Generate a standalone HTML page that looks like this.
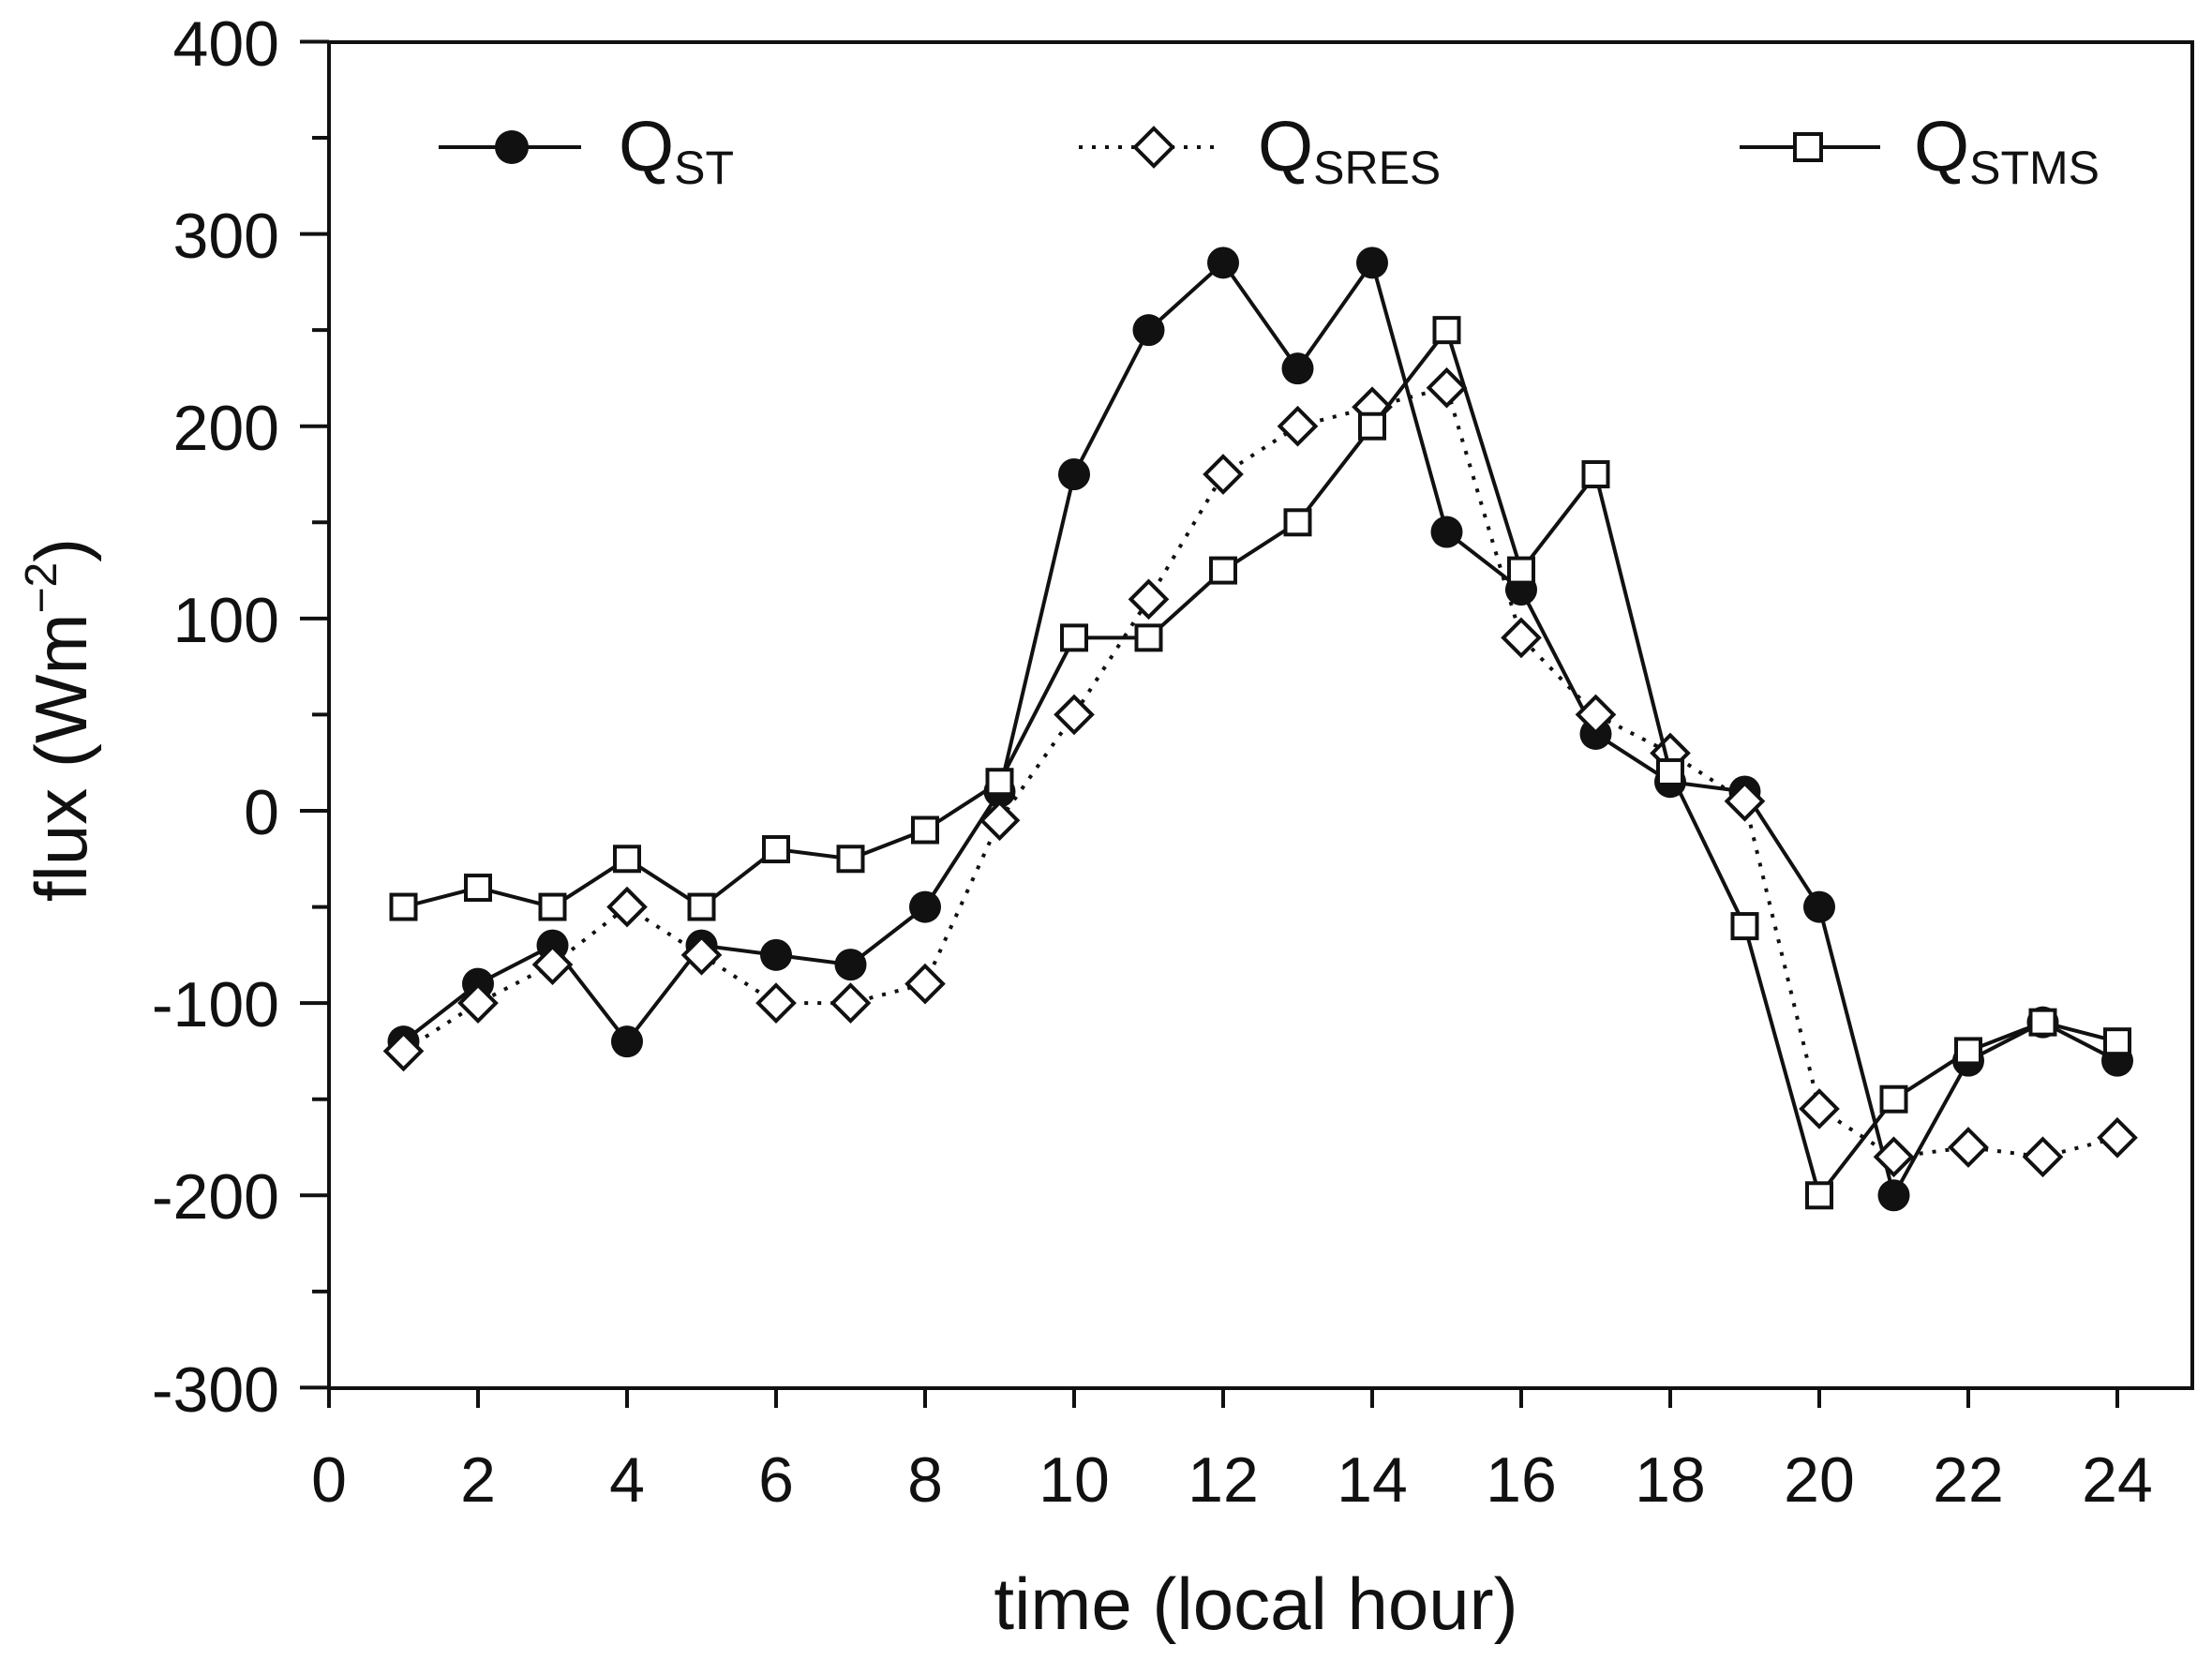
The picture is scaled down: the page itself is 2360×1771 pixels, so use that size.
<!DOCTYPE html>
<html><head><meta charset="utf-8"><style>
html,body{margin:0;padding:0;background:#fff;}
svg{display:block;}
text{font-family:"Liberation Sans",Arial,sans-serif;fill:#111;}
</style></head><body>
<svg id="s" width="2360" height="1771" viewBox="0 0 2360 1771" xmlns="http://www.w3.org/2000/svg">
<rect x="0" y="0" width="2360" height="1771" fill="#fff"/>
<rect x="351" y="45" width="1988" height="1436" fill="none" stroke="#111" stroke-width="4"/>
<g id="ticks" stroke="#111" stroke-width="4"></g>
<g font-size="68" text-anchor="end">
<text x="298" y="70">400</text>
<text x="298" y="275">300</text>
<text x="298" y="480">200</text>
<text x="298" y="685">100</text>
<text x="298" y="890">0</text>
<text x="298" y="1095">-100</text>
<text x="298" y="1300">-200</text>
<text x="298" y="1506">-300</text>
</g>
<g font-size="68" text-anchor="middle">
<text x="351" y="1602">0</text>
<text x="510" y="1602">2</text>
<text x="669" y="1602">4</text>
<text x="828" y="1602">6</text>
<text x="987" y="1602">8</text>
<text x="1146" y="1602">10</text>
<text x="1305" y="1602">12</text>
<text x="1464" y="1602">14</text>
<text x="1623" y="1602">16</text>
<text x="1782" y="1602">18</text>
<text x="1941" y="1602">20</text>
<text x="2100" y="1602">22</text>
<text x="2259" y="1602">24</text>
</g>
<text x="1340" y="1738" font-size="78" text-anchor="middle">time (local hour)</text>
<text transform="translate(92,768) rotate(-90)" font-size="78" text-anchor="middle">flux (Wm<tspan font-size="48" dy="-32">−2</tspan><tspan dy="32">)</tspan></text>
<g id="data"></g>
<g stroke="#111" stroke-width="4" fill="none">
<line x1="468" y1="157" x2="620" y2="157"/>
<line x1="1151" y1="157" x2="1297" y2="157" stroke-dasharray="4 10"/>
<line x1="1856" y1="157" x2="2006" y2="157"/>
</g>
<circle cx="546" cy="157" r="18" fill="#111"/>
<path d="M1231 137 L1251 157 L1231 177 L1211 157 Z" fill="#fff" stroke="#111" stroke-width="4"/>
<rect x="1915" y="143" width="28" height="28" fill="#fff" stroke="#111" stroke-width="4"/>
<g font-size="76">
<text x="660" y="182">Q<tspan font-size="50" dy="14">ST</tspan></text>
<text x="1342" y="182">Q<tspan font-size="50" dy="14">SRES</tspan></text>
<text x="2042" y="182">Q<tspan font-size="50" dy="14">STMS</tspan></text>
</g>
</svg>
<script>
var NS="http://www.w3.org/2000/svg";
function X(h){return 351+79.5*h;}
function Y(v){return 865-2.0514*v;}
var t=document.getElementById('ticks'),d=document.getElementById('data');
function el(n,a,p){var e=document.createElementNS(NS,n);for(var k in a)e.setAttribute(k,a[k]);p.appendChild(e);return e;}
for(var v=-300;v<=400;v+=50){var y=Y(v);el('line',{x1:v%100==0?320:333,y1:y,x2:351,y2:y},t);}
for(var h=0;h<=24;h+=2){el('line',{x1:X(h),y1:1481,x2:X(h),y2:1502},t);}
var ST=[-120,-90,-70,-120,-70,-75,-80,-50,10,175,250,285,230,285,145,115,40,15,10,-50,-200,-130,-110,-130];
var SR=[-125,-100,-80,-50,-75,-100,-100,-90,-5,50,110,175,200,210,220,90,50,30,5,-155,-180,-175,-180,-170];
var SM=[-50,-40,-50,-25,-50,-20,-25,-10,15,90,90,125,150,200,250,125,175,20,-60,-200,-150,-125,-110,-120];
function pts(a){return a.map(function(v,i){return X(i+1)+','+Y(v);}).join(' ');}
el('polyline',{points:pts(ST),fill:'none',stroke:'#111','stroke-width':4},d);
ST.forEach(function(v,i){el('circle',{cx:X(i+1),cy:Y(v),r:17,fill:'#111'},d);});
el('polyline',{points:pts(SR),fill:'none',stroke:'#111','stroke-width':4,'stroke-dasharray':'4 10'},d);
SR.forEach(function(v,i){var x=X(i+1),y=Y(v);el('path',{d:'M'+x+' '+(y-19)+' L'+(x+19)+' '+y+' L'+x+' '+(y+19)+' L'+(x-19)+' '+y+' Z',fill:'#fff',stroke:'#111','stroke-width':4},d);});
el('polyline',{points:pts(SM),fill:'none',stroke:'#111','stroke-width':4},d);
SM.forEach(function(v,i){el('rect',{x:X(i+1)-13,y:Y(v)-13,width:26,height:26,fill:'#fff',stroke:'#111','stroke-width':4},d);});
</script>
</body></html>
